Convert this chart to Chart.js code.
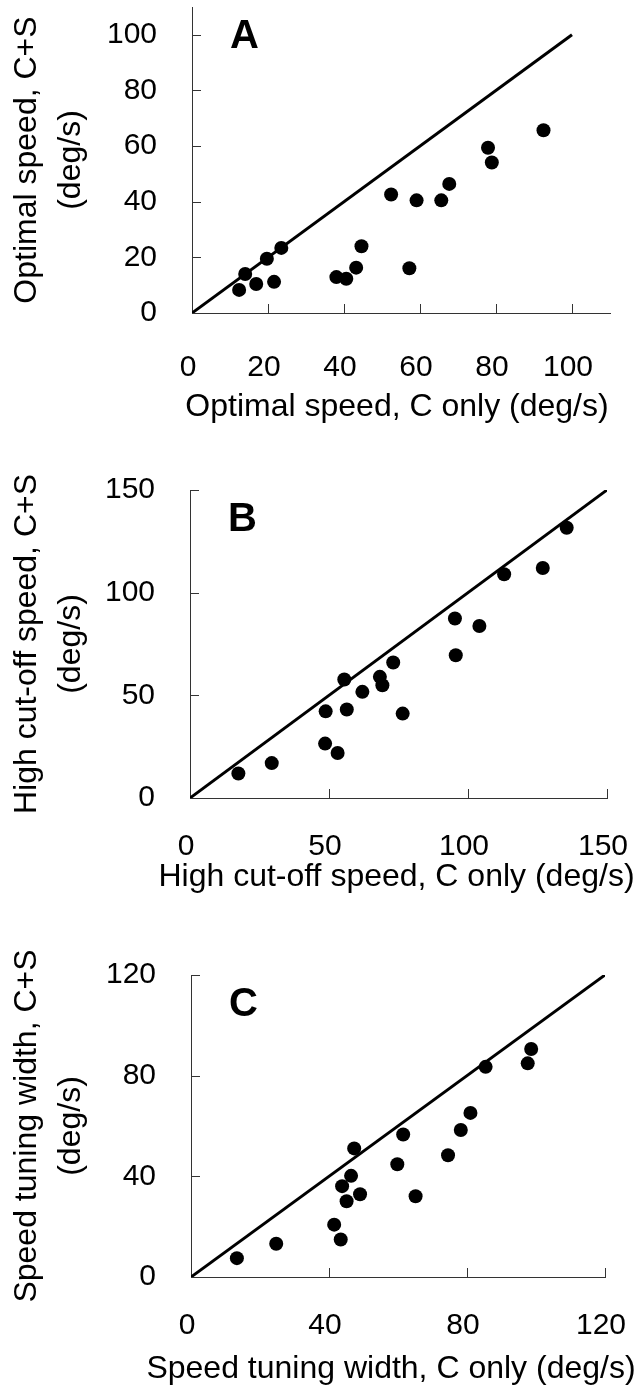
<!DOCTYPE html>
<html>
<head>
<meta charset="utf-8">
<script src="https://cdn.jsdelivr.net/npm/chart.js@4/dist/chart.umd.min.js"></script>
<style>
    body { margin: 0; background: #fff; }
    .panel { position: absolute; left: 0; }
</style>
</head>
<body>
<canvas id="chartA" class="panel" style="top:0px" width="639" height="460"></canvas>
<canvas id="chartB" class="panel" style="top:460px" width="639" height="470"></canvas>
<canvas id="chartC" class="panel" style="top:930px" width="639" height="467"></canvas>
<script>
// A: optimal speed
const optimalCOnly = [12.4, 14.0, 16.9, 19.7, 21.6, 23.5, 38.0, 40.6, 43.2, 44.6, 52.4, 57.2, 59.1, 65.6, 67.7, 77.9, 78.9, 92.5];
const optimalCS = [8.3, 14.0, 10.4, 19.5, 11.2, 23.4, 12.9, 12.3, 16.3, 24.0, 42.6, 16.1, 40.5, 40.5, 46.4, 59.4, 54.1, 65.7];
// B: high cut-off speed
const cutoffCOnly = [17.4, 29.4, 48.8, 48.6, 53.1, 55.5, 56.4, 62.0, 68.3, 69.2, 73.1, 76.5, 95.3, 95.6, 104.1, 113.0, 126.9, 135.5];
const cutoffCS = [11.9, 17.0, 42.2, 26.5, 21.9, 57.7, 43.1, 51.7, 59.0, 54.9, 66.0, 41.1, 87.4, 69.5, 83.8, 109.0, 112.0, 131.6];
// C: speed tuning width
const widthCOnly = [13.3, 24.7, 43.4, 41.5, 45.1, 49.0, 43.8, 46.4, 47.3, 59.8, 65.1, 61.5, 74.5, 78.2, 81.0, 85.4, 97.6, 98.6];
const widthCS = [7.5, 13.2, 14.9, 20.8, 30.1, 32.9, 36.1, 40.2, 51.1, 44.8, 32.1, 56.6, 48.4, 58.4, 65.2, 83.5, 84.9, 90.6];

// unity lines, axis ends and tick labels
const unityA = [0, 100];
const unityB = [0, 150];
const unityC = [0, 120];
const maxA = 110, maxB = 150, maxC = 120;
const ticksA = [0, 20, 40, 60, 80, 100];
const ticksB = [0, 50, 100, 150];
const ticksC = [0, 40, 80, 120];

const FONT = "'Liberation Sans', Arial, sans-serif";
Chart.defaults.font.family = FONT;
Chart.defaults.color = '#000';

// short tick marks pointing into the plot
const innerTicks = {
    id: 'innerTicks',
    beforeDatasetsDraw(chart) {
        const ctx = chart.ctx;
        const xs = chart.scales.x, ys = chart.scales.y;
        ctx.save();
        ctx.strokeStyle = '#333';
        ctx.lineWidth = 1;
        ctx.beginPath();
        xs.ticks.forEach((t) => {
            const px = Math.round(xs.getPixelForValue(t.value)) + 0.5;
            ctx.moveTo(px, xs.top);
            ctx.lineTo(px, xs.top - 9);
        });
        ys.ticks.forEach((t) => {
            const py = Math.round(ys.getPixelForValue(t.value)) + 0.5;
            ctx.moveTo(ys.right, py);
            ctx.lineTo(ys.right + 9, py);
        });
        ctx.stroke();
        ctx.restore();
    }
};

// panel letter and x title (the title is wider than the plot, so not squeezed)
const panelText = {
    id: 'panelText',
    afterDraw(chart, args, opts) {
        const ctx = chart.ctx;
        const area = chart.chartArea;
        ctx.save();
        ctx.fillStyle = '#000';
        ctx.font = 'bold 40px ' + FONT;
        ctx.textAlign = 'left';
        ctx.textBaseline = 'alphabetic';
        ctx.fillText(opts.letter, area.left + 38, area.top + 41);
        ctx.font = '32px ' + FONT;
        ctx.textAlign = 'center';
        ctx.textBaseline = 'middle';
        ctx.fillText(opts.xTitle, (area.left + area.right) / 2 + opts.titleDx, chart.height - opts.titleFromBottom);
        ctx.restore();
    }
};

function makePanel(id, letter, xs, ys, unity, max, tickValues, xTitle, yTitle, geo) {
    const setTicks = (scale) => {
        scale.ticks = tickValues.map((v) => ({ value: v }));
    };
    const noOverhang = (s) => {
        s.paddingLeft = 0; s.paddingRight = 0; s.paddingTop = 0; s.paddingBottom = 0;
    };
    const axisBase = {
        type: 'linear',
        min: 0,
        max: max,
        grid: { display: false, drawTicks: false },
        border: { display: true, color: '#333', width: 1 },
        afterBuildTicks: setTicks
    };
    return new Chart(document.getElementById(id), {
        type: 'scatter',
        data: {
            datasets: [
                {
                    type: 'line',
                    data: unity.map((v) => ({ x: v, y: v })),
                    borderColor: '#000',
                    borderWidth: 3,
                    pointRadius: 0,
                    fill: false
                },
                {
                    data: xs.map((v, i) => ({ x: v, y: ys[i] })),
                    backgroundColor: '#000',
                    borderWidth: 0,
                    pointRadius: 7,
                    pointHoverRadius: 7
                }
            ]
        },
        options: {
            responsive: false,
            animation: false,
            layout: { padding: { top: geo.top, right: geo.right, left: 0, bottom: 0 } },
            plugins: {
                legend: { display: false },
                tooltip: { enabled: false },
                panelText: { letter: letter, xTitle: xTitle, titleDx: geo.titleDx, titleFromBottom: geo.titleFromBottom }
            },
            scales: {
                x: {
                    ...axisBase,
                    position: 'bottom',
                    ticks: { padding: geo.xPad, labelOffset: -4, font: { size: 30 } },
                    afterFit: (s) => { s.height = geo.xHeight; noOverhang(s); }
                },
                y: {
                    ...axisBase,
                    ticks: { padding: 35, font: { size: 30 } },
                    title: { display: true, text: yTitle, font: { size: 32, lineHeight: 1.375 }, padding: { top: 5, bottom: 0 } },
                    afterFit: (s) => { s.width = geo.yWidth; noOverhang(s); }
                }
            }
        },
        plugins: [innerTicks, panelText]
    });
}

makePanel('chartA', 'A', optimalCOnly, optimalCS, unityA, maxA, ticksA,
    'Optimal speed, C only (deg/s)', ['Optimal speed, C+S', '(deg/s)'],
    { top: 6, right: 29, yWidth: 192, xHeight: 147, xPad: 37, titleDx: -4, titleFromBottom: 53 });

makePanel('chartB', 'B', cutoffCOnly, cutoffCS, unityB, maxB, ticksB,
    'High cut-off speed, C only (deg/s)', ['High cut-off speed, C+S', '(deg/s)'],
    { top: 30, right: 32, yWidth: 190, xHeight: 132, xPad: 31, titleDx: -2, titleFromBottom: 53 });

makePanel('chartC', 'C', widthCOnly, widthCS, unityC, maxC, ticksC,
    'Speed tuning width, C only (deg/s)', ['Speed tuning width, C+S', '(deg/s)'],
    { top: 45, right: 34, yWidth: 191, xHeight: 120, xPad: 31, titleDx: -7, titleFromBottom: 28 });
</script>
</body>
</html>
